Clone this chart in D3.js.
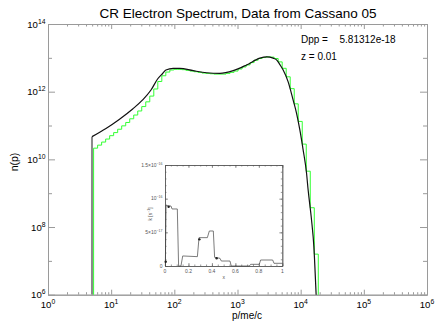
<!DOCTYPE html>
<html>
<head>
<meta charset="utf-8">
<script src="https://cdn.jsdelivr.net/npm/d3@7"></script>
<style>
  body { margin: 0; background: #fff; }
  text { font-family: "Liberation Sans", Arial, sans-serif; }
</style>
</head>
<body>
<script>
// smooth spectrum (black)
const blackP = [4.97, 8.28, 13.4, 21.9, 31.5, 42.7, 54.3, 65.3, 73.6, 95.9, 122, 199, 324, 527, 855,
  1393, 2259, 2884, 3673, 4150, 4688, 5284, 6339, 7603, 8610, 9705, 10940, 12390, 13120, 14860,
  16180, 17580, 18620];
const blackN = [4.69e10, 8.18e10, 1.51e11, 3.08e11, 5.69e11, 1.12e12, 2.37e12, 3.45e12, 4.38e12, 4.91e12,
  4.90e12, 4.17e12, 3.63e12, 3.47e12, 4.17e12, 6.17e12, 9.77e12, 1.07e13, 9.77e12, 8.71e12, 6.31e12,
  4.37e12, 1.95e12, 5.62e11, 2.29e11, 7.41e10, 1.91e10, 3.89e9, 1.26e9, 1.62e8, 2.63e7, 1e6, 1e5];

// binned spectrum (green), bin edges and bin values
const greenEdges = [5.27, 6.10, 7.06, 8.18, 9.46, 10.95, 12.68, 14.67, 16.99, 19.66, 22.76, 26.34, 30.49,
  35.29, 40.85, 47.29, 54.73, 63.36, 73.33, 84.88, 98.25, 113.7, 131.6, 152.4, 176.4, 204.2, 236.3, 273.5,
  316.6, 366.5, 424.2, 491.0, 568.3, 657.8, 761.4, 881.4, 1020, 1181, 1367, 1582, 1831, 2120, 2454, 2840,
  3287, 3805, 4404, 5098, 5901, 6830, 7906, 9151, 10590, 12260, 14190, 16430, 19010];
const greenN = [2.14e10, 2.63e10, 3.24e10, 3.98e10, 5.01e10, 6.17e10, 7.76e10, 9.77e10, 1.23e11, 1.58e11,
  2.04e11, 2.69e11, 3.63e11, 5.01e11, 7.41e11, 1.20e12, 2.00e12, 2.95e12, 3.80e12, 4.37e12, 4.57e12,
  4.57e12, 4.47e12, 4.27e12, 4.07e12, 3.89e12, 3.72e12, 3.55e12, 3.47e12, 3.39e12, 3.31e12, 3.31e12,
  3.31e12, 3.47e12, 3.72e12, 4.07e12, 4.68e12, 5.37e12, 6.17e12, 7.24e12, 8.51e12, 9.55e12, 1.02e13,
  1.07e13, 1.05e13, 9.55e12, 7.59e12, 4.90e12, 2.75e12, 1.23e12, 4.37e11, 1.32e11, 2.82e10, 4.47e9,
  3.72e8, 1.58e7];

// inset: k(x)
const insetX = [0.003, 0.009, 0.028, 0.051, 0.060, 0.105, 0.116, 0.136, 0.151, 0.276, 0.290, 0.361, 0.378,
  0.412, 0.423, 0.469, 0.480, 0.554, 0.565, 0.719, 0.730, 0.804, 0.815, 0.918, 0.929, 1.0];
const insetK = [0, 0.906e-16, 0.891e-16, 0.891e-16, 0.847e-16, 0.847e-16, 0, 0, 0.149e-16, 0.139e-16,
  0.421e-16, 0.421e-16, 0.52e-16, 0.52e-16, 0.129e-16, 0.114e-16, 0.074e-16, 0.074e-16, 0, 0, 0.025e-16,
  0.025e-16, 0.089e-16, 0.089e-16, 0.040e-16, 0.040e-16];
const insetDotX = [0.006, 0.031, 0.293, 0.44];
const insetDotK = [0.064e-16, 0.88e-16, 0.396e-16, 0.114e-16];

const xMajorExp = [0, 1, 2, 3, 4, 5, 6];
const yMajorExp = [6, 8, 10, 12, 14];
const yMinorExp = [7, 9, 11, 13];
const insetYTicks = [0, 5e-17, 1e-16, 1.5e-16];
const insetYLabels = [["0", ""], ["5×10", "−17"], ["10", "−16"], ["1.5×10", "−16"]];
const insetXTicks = [0, 0.2, 0.4, 0.6, 0.8, 1];
const insetXLabels = ["0", "0.2", "0.4", "0.6", "0.8", "1"];

const title = "CR Electron Spectrum, Data from Cassano 05";
const dppText = "5.81312e-18";
const zText = "z = 0.01";

const width = 436, height = 321;
const margin = { top: 24, right: 9, bottom: 26.3, left: 48 };
const axisColor = "#9a9a9a";

const svg = d3.select("body").append("svg")
  .attr("width", width)
  .attr("height", height);

const xScale = d3.scaleLog().domain([1, 1e6]).range([margin.left, width - margin.right]);
const yScale = d3.scaleLog().domain([1e6, 1e14]).range([height - margin.bottom, margin.top]);

const x0 = margin.left, x1 = width - margin.right;
const y0 = height - margin.bottom, y1 = margin.top;

svg.append("clipPath").attr("id", "plot")
  .append("rect").attr("x", x0).attr("y", y1).attr("width", x1 - x0).attr("height", y0 - y1);

// axes with inward ticks
function styleAxis(g) {
  g.select(".domain").attr("stroke", axisColor);
  g.selectAll("line").attr("stroke", axisColor);
  g.selectAll("text").remove();
}
const xMajor = xMajorExp.map(e => Math.pow(10, e));
const xMinor = xScale.ticks().filter(v => !xMajor.some(m => Math.abs(m - v) / m < 1e-6));

svg.append("g").attr("transform", `translate(0,${y0})`)
  .call(d3.axisBottom(xScale).tickValues(xMajor).tickSizeInner(-5).tickSizeOuter(0)).call(styleAxis);
svg.append("g").attr("transform", `translate(0,${y0})`)
  .call(d3.axisBottom(xScale).tickValues(xMinor).tickSizeInner(-2.5).tickSizeOuter(0)).call(styleAxis);
svg.append("g").attr("transform", `translate(0,${y1})`)
  .call(d3.axisTop(xScale).tickValues(xMajor).tickSizeInner(-5).tickSizeOuter(0)).call(styleAxis);
svg.append("g").attr("transform", `translate(0,${y1})`)
  .call(d3.axisTop(xScale).tickValues(xMinor).tickSizeInner(-2.5).tickSizeOuter(0)).call(styleAxis);

const yMajor = yMajorExp.map(e => Math.pow(10, e));
const yMinor = yMinorExp.map(e => Math.pow(10, e));
svg.append("g").attr("transform", `translate(${x0},0)`)
  .call(d3.axisLeft(yScale).tickValues(yMajor).tickSizeInner(-7).tickSizeOuter(0)).call(styleAxis);
svg.append("g").attr("transform", `translate(${x0},0)`)
  .call(d3.axisLeft(yScale).tickValues(yMinor).tickSizeInner(-4).tickSizeOuter(0)).call(styleAxis);
svg.append("g").attr("transform", `translate(${x1},0)`)
  .call(d3.axisRight(yScale).tickValues(yMajor).tickSizeInner(-7).tickSizeOuter(0)).call(styleAxis);
svg.append("g").attr("transform", `translate(${x1},0)`)
  .call(d3.axisRight(yScale).tickValues(yMinor).tickSizeInner(-4).tickSizeOuter(0)).call(styleAxis);

// tick labels 10^n
const xLab = svg.append("g").selectAll("text").data(xMajorExp).join("text")
  .attr("x", d => xScale(Math.pow(10, d)))
  .attr("y", y0 + 13.2)
  .attr("text-anchor", "middle")
  .attr("font-size", 9.6);
xLab.append("tspan").text("10");
xLab.append("tspan").attr("dy", -4).attr("font-size", 6.8).text(d => d);

const yLab = svg.append("g").selectAll("text").data(yMajorExp).join("text")
  .attr("x", x0 - 2.5)
  .attr("y", d => yScale(Math.pow(10, d)) + 3.5)
  .attr("text-anchor", "end")
  .attr("font-size", 9.6);
yLab.append("tspan").text("10");
yLab.append("tspan").attr("dy", -4).attr("font-size", 6.8).text(d => d);

// titles
svg.append("text").attr("x", 238).attr("y", 18).attr("text-anchor", "middle")
  .attr("font-size", 13.5).text(title);
svg.append("text").attr("x", 247).attr("y", 318.8).attr("text-anchor", "middle")
  .attr("font-size", 10).text("p/me/c");
svg.append("text").attr("transform", "translate(18,162) rotate(-90)").attr("text-anchor", "middle")
  .attr("font-size", 10.5).text("n(p)");

svg.append("text").attr("x", 301).attr("y", 42.5).attr("font-size", 10).text("Dpp =");
svg.append("text").attr("x", 339.5).attr("y", 42.5).attr("font-size", 10).text(dppText);
svg.append("text").attr("x", 301).attr("y", 59.5).attr("font-size", 10).text(zText);

// curves
const plot = svg.append("g").attr("clip-path", "url(#plot)");

plot.append("line")
  .attr("x1", xScale(blackP[0])).attr("x2", xScale(blackP[0]))
  .attr("y1", yScale(blackN[0])).attr("y2", y0)
  .attr("stroke", "#8a8a8a").attr("stroke-width", 2);

const greenPts = [[greenEdges[0], 1e5]]
  .concat(greenN.map((n, i) => [greenEdges[i], n]))
  .concat([[greenEdges[greenEdges.length - 1], greenN[greenN.length - 1]],
           [greenEdges[greenEdges.length - 1], 1e5]]);
const stepLine = d3.line()
  .x(d => xScale(d[0]))
  .y(d => yScale(d[1]))
  .curve(d3.curveStepAfter);
plot.append("path")
  .attr("d", stepLine(greenPts))
  .attr("fill", "none")
  .attr("stroke", "#33ff33")
  .attr("stroke-width", 1);

const smoothLine = d3.line()
  .x((d, i) => xScale(blackP[i]))
  .y(d => yScale(d))
  .curve(d3.curveMonotoneX);
plot.append("path")
  .attr("d", smoothLine(blackN))
  .attr("fill", "none")
  .attr("stroke", "#111")
  .attr("stroke-width", 1.2);

// inset
const ix = d3.scaleLinear().domain([0, 1]).range([165, 282.3]);
const iy = d3.scaleLinear().domain([0, 1.5e-16]).range([266, 165]);
const insetColor = "#555";
const inset = svg.append("g");
inset.append("rect").attr("x", 165).attr("y", 165).attr("width", 117.3).attr("height", 101)
  .attr("fill", "#fff");

function styleInset(g) {
  g.select(".domain").attr("stroke", insetColor).attr("stroke-width", 0.7);
  g.selectAll("line").attr("stroke", insetColor).attr("stroke-width", 0.6);
  g.selectAll("text").remove();
}
const ixMinor = d3.range(0, 1.0001, 0.05);
const iyMinor = d3.range(0, 1.5001e-16, 1e-17);
inset.append("g").attr("transform", "translate(0,266)")
  .call(d3.axisBottom(ix).tickValues(ixMinor).tickSizeInner(-1.5).tickSizeOuter(0)).call(styleInset);
inset.append("g").attr("transform", "translate(0,266)")
  .call(d3.axisBottom(ix).tickValues(insetXTicks).tickSizeInner(-3).tickSizeOuter(0)).call(styleInset);
inset.append("g").attr("transform", "translate(0,165)")
  .call(d3.axisTop(ix).tickValues(ixMinor).tickSizeInner(-1.5).tickSizeOuter(0)).call(styleInset);
inset.append("g").attr("transform", "translate(0,165)")
  .call(d3.axisTop(ix).tickValues(insetXTicks).tickSizeInner(-3).tickSizeOuter(0)).call(styleInset);
inset.append("g").attr("transform", "translate(165,0)")
  .call(d3.axisLeft(iy).tickValues(iyMinor).tickSizeInner(-1.5).tickSizeOuter(0)).call(styleInset);
inset.append("g").attr("transform", "translate(165,0)")
  .call(d3.axisLeft(iy).tickValues(insetYTicks).tickSizeInner(-3).tickSizeOuter(0)).call(styleInset);
inset.append("g").attr("transform", "translate(282.3,0)")
  .call(d3.axisRight(iy).tickValues(iyMinor).tickSizeInner(-1.5).tickSizeOuter(0)).call(styleInset);
inset.append("g").attr("transform", "translate(282.3,0)")
  .call(d3.axisRight(iy).tickValues(insetYTicks).tickSizeInner(-3).tickSizeOuter(0)).call(styleInset);

inset.append("g").selectAll("text").data(insetXTicks).join("text")
  .attr("x", d => ix(d)).attr("y", 272.5)
  .attr("text-anchor", "middle").attr("font-size", 5).attr("fill", insetColor)
  .text((d, i) => insetXLabels[i]);
const iyLab = inset.append("g").selectAll("text").data(insetYTicks).join("text")
  .attr("x", 162.5).attr("y", d => iy(d) + 1.8)
  .attr("text-anchor", "end").attr("font-size", 5).attr("fill", insetColor);
iyLab.append("tspan").text((d, i) => insetYLabels[i][0]);
iyLab.append("tspan").attr("dy", -2).attr("font-size", 3.5).text((d, i) => insetYLabels[i][1]);

inset.append("text").attr("x", ix(0.5)).attr("y", 278.5).attr("text-anchor", "middle")
  .attr("font-size", 5).attr("fill", insetColor).text("x");
const kLab = inset.append("text").attr("transform", "translate(152,214) rotate(-90)")
  .attr("text-anchor", "middle").attr("font-size", 5).attr("fill", insetColor);
kLab.append("tspan").text("k  [s");
kLab.append("tspan").attr("dy", -2).attr("font-size", 3.5).text("−1");
kLab.append("tspan").attr("dy", 2).text("]");

const insetLine = d3.line()
  .x((d, i) => ix(insetX[i]))
  .y(d => iy(d));
inset.append("path")
  .attr("d", insetLine(insetK))
  .attr("fill", "none")
  .attr("stroke", "#444")
  .attr("stroke-width", 0.7);
inset.append("g").selectAll("circle").data(insetDotK).join("circle")
  .attr("cx", (d, i) => ix(insetDotX[i]))
  .attr("cy", d => iy(d))
  .attr("r", 1.2)
  .attr("fill", "#222");
</script>
</body>
</html>
